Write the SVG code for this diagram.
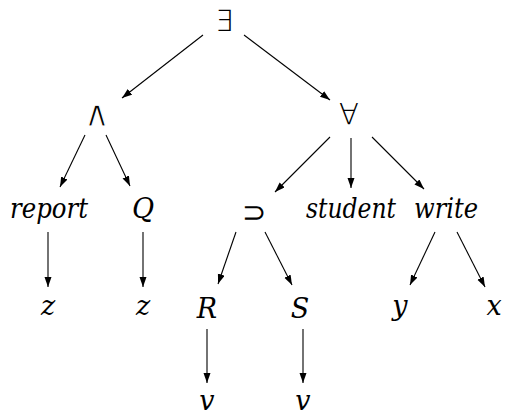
<svg xmlns="http://www.w3.org/2000/svg" width="510" height="416" viewBox="0 0 510 416">
<style>
.t{font-family:'DejaVu Serif',serif;font-style:italic;font-size:27px;fill:#000;text-anchor:middle}
.s{font-family:'DejaVu Sans',sans-serif;font-weight:200;font-size:29px;fill:#000;text-anchor:middle}
.w{font-family:'DejaVu Sans',sans-serif;font-size:36px;fill:#000;stroke:#fff;stroke-width:1.2;text-anchor:middle}
.e line{stroke:#000;stroke-width:1.1;marker-end:url(#a)}
</style>
<defs>
<marker id="a" markerUnits="userSpaceOnUse" markerWidth="11" markerHeight="8" refX="10" refY="3.5" orient="auto">
<path d="M0,0 L10,3.5 L0,7 z" fill="#000"/>
</marker>
</defs>
<rect width="510" height="416" fill="#fff"/>
<g id="connectors" class="e">
<line x1="203" y1="35" x2="122" y2="98"/>
<line x1="244" y1="35" x2="330" y2="100"/>
<line x1="85" y1="135" x2="60" y2="187"/>
<line x1="106" y1="135" x2="130" y2="186"/>
<line x1="330" y1="137" x2="275" y2="192"/>
<line x1="351" y1="138" x2="351" y2="188"/>
<line x1="372" y1="137" x2="424" y2="189"/>
<line x1="48" y1="232" x2="48" y2="287"/>
<line x1="143" y1="232" x2="143" y2="287"/>
<line x1="236" y1="232" x2="218" y2="284"/>
<line x1="265" y1="232" x2="292" y2="285"/>
<line x1="435" y1="232" x2="410" y2="285"/>
<line x1="457" y1="232" x2="485" y2="287"/>
<line x1="207" y1="329" x2="207" y2="383"/>
<line x1="303" y1="329" x2="303" y2="383"/>
</g>
<g id="exists"><text class="s" x="224" y="31">∃</text></g>
<g id="and"><text class="w" x="97" y="126">∧</text></g>
<g id="forall"><text class="s" x="349" y="124">∀</text></g>
<g id="report"><text class="t" x="49" y="218" textLength="78" lengthAdjust="spacingAndGlyphs">report</text></g>
<g id="Q"><text class="t" x="143" y="218">Q</text></g>
<g id="implies"><text class="s" x="254" y="222">⊃</text></g>
<g id="student"><text class="t" x="351" y="218" textLength="90" lengthAdjust="spacingAndGlyphs">student</text></g>
<g id="write"><text class="t" x="446" y="218" textLength="64" lengthAdjust="spacingAndGlyphs">write</text></g>
<g id="z1"><text class="t" x="48" y="315">z</text></g>
<g id="z2"><text class="t" x="143" y="315">z</text></g>
<g id="R"><text class="t" x="207" y="318">R</text></g>
<g id="S"><text class="t" x="300" y="318">S</text></g>
<g id="y"><text class="t" x="400" y="315">y</text></g>
<g id="x"><text class="t" x="494" y="315">x</text></g>
<g id="v1"><text class="t" x="207" y="410">v</text></g>
<g id="v2"><text class="t" x="303" y="410">v</text></g>
</svg>
